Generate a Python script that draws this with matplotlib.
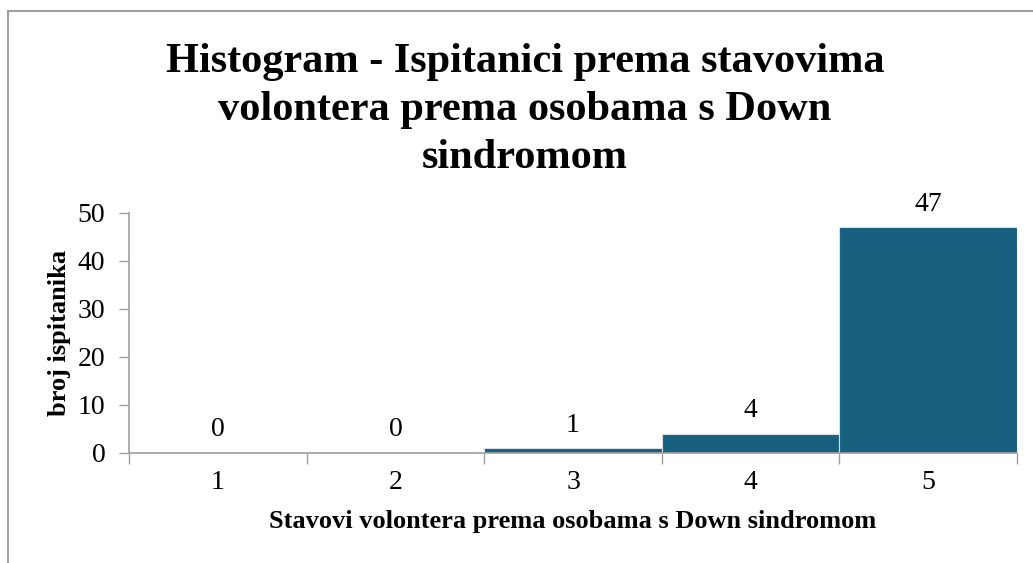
import numpy as np
import matplotlib.pyplot as plt
from matplotlib.patches import Rectangle

# Data
categories = ['1', '2', '3', '4', '5']
counts = [0, 0, 1, 4, 47]
title_lines = ['Histogram - Ispitanici prema stavovima',
               'volontera prema osobama s Down',
               'sindromom']

plt.rcParams['font.family'] = 'Liberation Serif'

W, H = 1033, 563
fig = plt.figure(figsize=(W / 100, H / 100), dpi=100)

# outer chart border (clipped at the right and bottom of the picture)
fig.patches.append(Rectangle((8 / W, -0.1), 1.2, 1.1 - 11 / H, transform=fig.transFigure,
                             fill=False, edgecolor='#a0a0a0', linewidth=1.5))

ax = fig.add_axes([129 / W, 1 - 453 / H, (1017 - 129) / W, (453 - 213) / H])

x = np.arange(1, len(categories) + 1)
ax.bar(x, counts, width=1.0, color='#17607f', edgecolor='#d9dde0', linewidth=0.8)

for xi, c in zip(x, counts):
    ax.text(xi, c + 2.2, str(c), ha='center', va='bottom', fontsize=20)

ax.set_xlim(0.5, 5.5)
ax.set_ylim(0, 50)
ax.set_yticks(range(0, 51, 10))
ax.set_xticks(np.arange(0.5, 6, 1.0))
ax.set_xticklabels([])
ax.set_xticks(x, minor=True)
ax.set_xticklabels(categories, minor=True)
ax.tick_params(axis='x', which='major', length=8, color='#a0a0a0', width=1)
ax.tick_params(axis='x', which='minor', length=0, labelsize=20, pad=12)
ax.tick_params(axis='y', length=7, color='#a0a0a0', width=1, labelsize=20, pad=10)

for s in ['top', 'right']:
    ax.spines[s].set_visible(False)
for s in ['left', 'bottom']:
    ax.spines[s].set_color('#a0a0a0')
    ax.spines[s].set_linewidth(1.2)

ax.set_xlabel('Stavovi volontera prema osobama s Down sindromom', fontsize=19,
              fontweight='bold', labelpad=11)
ax.set_ylabel('broj ispitanika', fontsize=19, fontweight='bold', labelpad=5)

for i, line in enumerate(title_lines):
    fig.text(525 / W, 1 - (72 + 48 * i) / H, line, ha='center', va='baseline',
             fontsize=30.5, fontweight='bold')

fig.savefig('out.png', dpi=100)
